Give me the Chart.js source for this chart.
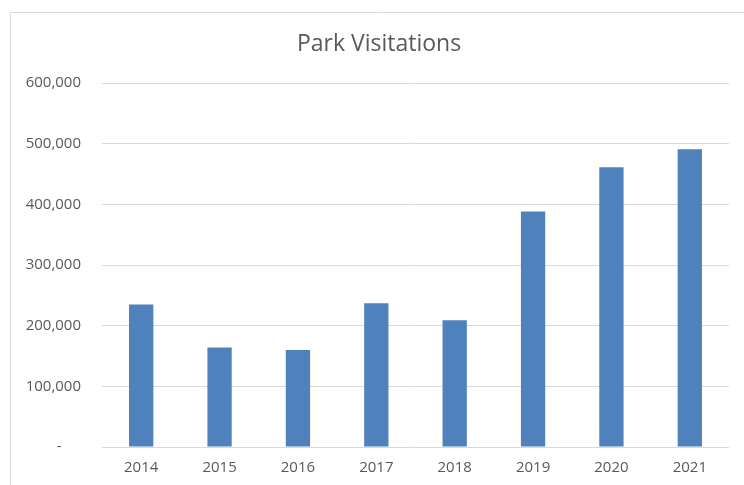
<!DOCTYPE html>
<html>
<head>
<meta charset="utf-8">
<script src="https://cdn.jsdelivr.net/npm/chart.js@4"></script>
<style>
html,body{margin:0;padding:0;background:#fff;}
#wrap{position:relative;width:744px;height:485px;}
</style>
</head>
<body>
<div id="wrap"><canvas id="c" width="744" height="485"></canvas></div>
<script>
const chartTitle = "Park Visitations";
const categories = ["2014","2015","2016","2017","2018","2019","2020","2021"];
const visits = [235000, 164000, 160000, 237000, 209000, 388000, 461000, 491000];
const yTicks = [0, 100000, 200000, 300000, 400000, 500000, 600000];

const FONT = "'Open Sans', 'Noto Sans', sans-serif";
const TXT = "#595959";

const framePlugin = {
  id: "frame",
  beforeDraw(chart) {
    const ctx = chart.ctx;
    ctx.save();
    ctx.fillStyle = "#fff";
    ctx.fillRect(0, 0, chart.width, chart.height);
    ctx.strokeStyle = "#d9d9d9";
    ctx.lineWidth = 1;
    ctx.beginPath();
    ctx.moveTo(10.5, chart.height + 2);
    ctx.lineTo(10.5, 12.5);
    ctx.lineTo(chart.width + 2, 12.5);
    ctx.stroke();
    ctx.restore();
  },
  afterDraw(chart) {
    const ctx = chart.ctx;
    ctx.save();
    ctx.fillStyle = TXT;
    ctx.font = "23px " + FONT;
    ctx.textAlign = "center";
    ctx.textBaseline = "middle";
    ctx.fillText(chartTitle, 379, 44);
    ctx.restore();
  }
};

new Chart(document.getElementById("c"), {
  type: "bar",
  data: {
    labels: categories,
    datasets: [{
      data: visits,
      backgroundColor: "#4F81BD",
      borderWidth: 0,
      barPercentage: 0.31,
      categoryPercentage: 1
    }]
  },
  options: {
    responsive: false,
    animation: false,
    events: [],
    layout: { padding: { left: 10, right: 15, top: 83, bottom: 0 } },
    plugins: { legend: { display: false }, title: { display: false }, tooltip: { enabled: false } },
    scales: {
      x: {
        grid: { display: false, drawTicks: false },
        border: { display: false },
        ticks: { color: TXT, font: { family: FONT, size: 15 }, padding: 12, maxRotation: 0 },
        afterFit(s) { s.height = 38; }
      },
      y: {
        min: 0, max: 600000,
        afterBuildTicks(s) { s.ticks = yTicks.map(v => ({ value: v })); },
        grid: { color: "#d9d9d9", lineWidth: 1, drawTicks: false },
        border: { display: false },
        ticks: {
          color: TXT, font: { family: FONT, size: 15 }, padding: 21,
          callback: v => v === 0 ? "-     " : v.toLocaleString("en-US")
        },
        afterFit(s) { s.width = 92; }
      }
    }
  },
  plugins: [framePlugin]
});
</script>
</body>
</html>
